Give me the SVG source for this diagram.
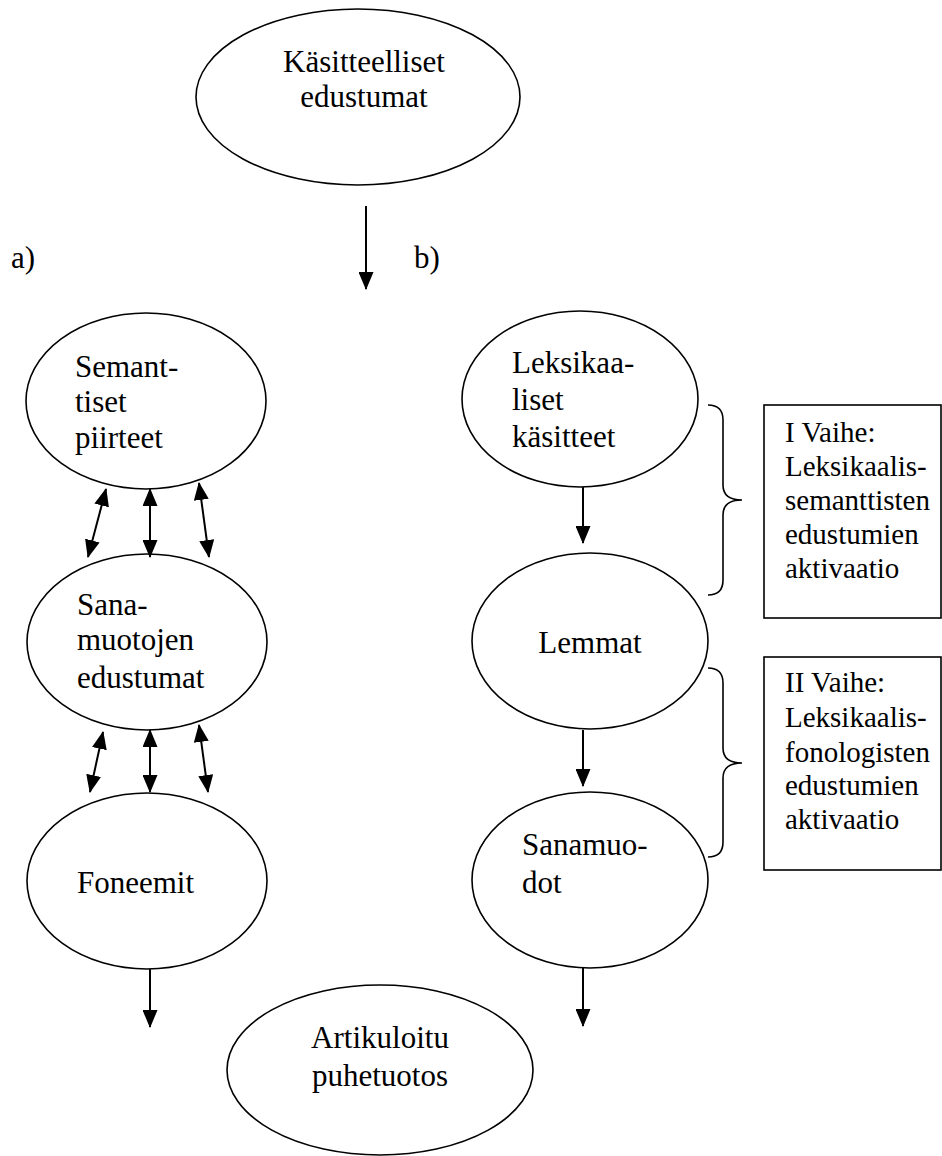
<svg xmlns="http://www.w3.org/2000/svg" width="942" height="1156" viewBox="0 0 942 1156">
<style>
.n{fill:#fff;stroke:#000;stroke-width:1.6}
.lbl{font-family:"Liberation Serif",serif;font-size:31px;fill:#000}
.bx{font-family:"Liberation Serif",serif;font-size:29px;fill:#000}
.mid{text-anchor:middle}
.e{stroke:#000;stroke-width:2;fill:none}
.b{stroke:#000;stroke-width:1.6;fill:none}
</style>
<defs>
<marker id="ah" markerUnits="userSpaceOnUse" markerWidth="18" markerHeight="15" viewBox="0 0 18 15" refX="17" refY="7.5" orient="auto-start-reverse">
<path d="M0,0 L18,7.5 L0,15 z" fill="#000"/>
</marker>
</defs>
<rect width="942" height="1156" fill="#fff"/>
<text class="lbl" x="11" y="268">a)</text>
<text class="lbl" x="414" y="268">b)</text>
<g id="kasitteelliset">
<ellipse class="n" cx="358" cy="97" rx="162" ry="88"/>
<text class="lbl mid" x="364" y="72">Käsitteelliset</text>
<text class="lbl mid" x="364" y="107">edustumat</text>
</g>
<g id="semanttiset">
<ellipse class="n" cx="146" cy="401" rx="120" ry="88"/>
<text class="lbl" x="75" y="377">Semant-</text>
<text class="lbl" x="75" y="412">tiset</text>
<text class="lbl" x="75" y="448">piirteet</text>
</g>
<g id="sanamuotojen">
<ellipse class="n" cx="147" cy="642" rx="120" ry="88"/>
<text class="lbl" x="77" y="615">Sana-</text>
<text class="lbl" x="77" y="650">muotojen</text>
<text class="lbl" x="77" y="688">edustumat</text>
</g>
<g id="foneemit">
<ellipse class="n" cx="147" cy="881" rx="120" ry="88"/>
<text class="lbl" x="77" y="893">Foneemit</text>
</g>
<g id="leksikaaliset">
<ellipse class="n" cx="580" cy="399" rx="118" ry="88"/>
<text class="lbl" x="512" y="373">Leksikaa-</text>
<text class="lbl" x="512" y="410">liset</text>
<text class="lbl" x="512" y="447">käsitteet</text>
</g>
<g id="lemmat">
<ellipse class="n" cx="590" cy="641" rx="118" ry="88"/>
<text class="lbl mid" x="590" y="653">Lemmat</text>
</g>
<g id="sanamuodot">
<ellipse class="n" cx="590" cy="880" rx="118" ry="88"/>
<text class="lbl" x="522" y="855">Sanamuo-</text>
<text class="lbl" x="522" y="893">dot</text>
</g>
<g id="artikuloitu">
<ellipse class="n" cx="380" cy="1070" rx="153" ry="85"/>
<text class="lbl mid" x="380" y="1048">Artikuloitu</text>
<text class="lbl mid" x="380" y="1086">puhetuotos</text>
</g>
<g id="vaihe1">
<rect class="b" x="764" y="405" width="177" height="213"/>
<text class="bx" x="785" y="442">I Vaihe:</text>
<text class="bx" x="785" y="476">Leksikaalis-</text>
<text class="bx" x="785" y="510">semanttisten</text>
<text class="bx" x="785" y="544">edustumien</text>
<text class="bx" x="785" y="578">aktivaatio</text>
</g>
<g id="vaihe2">
<rect class="b" x="764" y="657" width="177" height="213"/>
<text class="bx" x="785" y="692">II Vaihe:</text>
<text class="bx" x="785" y="727">Leksikaalis-</text>
<text class="bx" x="785" y="762">fonologisten</text>
<text class="bx" x="785" y="795">edustumien</text>
<text class="bx" x="785" y="829">aktivaatio</text>
</g>
<g id="braces">
<path class="b" d="M708,405 Q723,405 723,420 L723,485 Q723,500 742,500 Q723,500 723,515 L723,580 Q723,595 708,595"/>
<path class="b" d="M708,668 Q723,668 723,683 L723,748 Q723,763 742,763 Q723,763 723,778 L723,842 Q723,857 708,857"/>
</g>
<g id="connectors">
<line class="e" x1="366" y1="206" x2="366" y2="289" marker-end="url(#ah)"/>
<line class="e" x1="106" y1="489" x2="88" y2="557" marker-start="url(#ah)" marker-end="url(#ah)"/>
<line class="e" x1="150" y1="489" x2="150" y2="557" marker-start="url(#ah)" marker-end="url(#ah)"/>
<line class="e" x1="199" y1="483" x2="209" y2="557" marker-start="url(#ah)" marker-end="url(#ah)"/>
<line class="e" x1="103" y1="732" x2="90" y2="792" marker-start="url(#ah)" marker-end="url(#ah)"/>
<line class="e" x1="150" y1="730" x2="150" y2="792" marker-start="url(#ah)" marker-end="url(#ah)"/>
<line class="e" x1="199" y1="725" x2="208" y2="792" marker-start="url(#ah)" marker-end="url(#ah)"/>
<line class="e" x1="150" y1="969" x2="150" y2="1027" marker-end="url(#ah)"/>
<line class="e" x1="583" y1="487" x2="583" y2="543" marker-end="url(#ah)"/>
<line class="e" x1="583" y1="730" x2="583" y2="786" marker-end="url(#ah)"/>
<line class="e" x1="583" y1="968" x2="583" y2="1026" marker-end="url(#ah)"/>
</g>
</svg>
